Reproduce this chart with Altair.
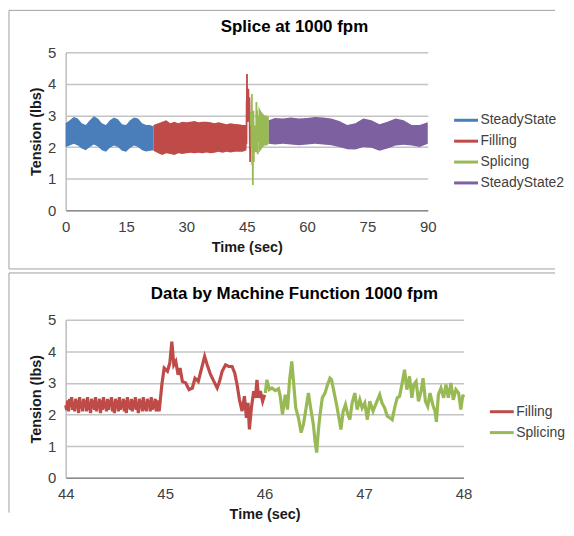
import altair as alt
import pandas as pd

FONT = "Liberation Sans"
SERIES = ["SteadyState", "Filling", "Splicing", "SteadyState2"]
COLORS = ["#4A7EBB", "#BE4B48", "#98B954", "#7D60A0"]
TITLE_TOP = "Splice at 1000 fpm"
TITLE_BOTTOM = "Data by Machine Function 1000 fpm"
X_TICKS_TOP = [0, 15, 30, 45, 60, 75, 90]
X_TICKS_BOTTOM = [44, 45, 46, 47, 48]
Y_TICKS = [0, 1, 2, 3, 4, 5]

# ---- top chart: envelope of the dense signal (time, upper, lower) ----
ss_t = [0, 1, 2, 3, 4, 5, 6, 7, 8, 9, 10, 11, 12, 13, 14, 15, 16, 17, 18, 19, 20, 21, 21.8]
ss_hi = [2.75, 2.85, 2.95, 2.9, 2.75, 2.7, 2.85, 2.97, 2.9, 2.75, 2.7, 2.85, 2.93, 2.88, 2.72, 2.7, 2.85, 2.93, 2.9, 2.75, 2.7, 2.7, 2.65]
ss_lo = [2.0, 2.05, 2.1, 2.05, 1.95, 1.9, 2.0, 2.08, 2.02, 1.9, 1.85, 1.98, 2.05, 2.0, 1.88, 1.85, 1.97, 2.05, 2.0, 1.9, 1.86, 1.88, 1.9]

fl_t = [21.8, 23, 24, 25, 26, 27, 28, 29, 30, 31, 32, 33, 34, 35, 36, 37, 38, 39, 40, 41, 42, 43, 44, 44.94]
fl_hi = [2.7, 2.75, 2.8, 2.85, 2.75, 2.8, 2.75, 2.8, 2.78, 2.8, 2.82, 2.78, 2.8, 2.8, 2.78, 2.75, 2.78, 2.75, 2.72, 2.75, 2.73, 2.72, 2.7, 2.7]
fl_lo = [1.88, 1.8, 1.75, 1.8, 1.78, 1.75, 1.8, 1.78, 1.8, 1.82, 1.8, 1.82, 1.8, 1.83, 1.8, 1.82, 1.85, 1.82, 1.85, 1.83, 1.85, 1.85, 1.85, 1.9]

sa_t = [47.95, 48.5, 49, 49.5, 50, 50.5]
sa_hi = [3.3, 3.15, 3.05, 3.0, 3.0, 2.95]
sa_lo = [1.8, 1.9, 2.0, 2.05, 2.05, 2.1]

s2_t = [50.5, 52, 54, 56, 58, 60, 62, 64, 66, 68, 70, 72, 74, 76, 78, 80, 82, 84, 86, 88, 90]
s2_hi = [2.85, 2.92, 2.9, 2.93, 2.9, 2.92, 2.95, 2.93, 2.9, 2.82, 2.7, 2.75, 2.9, 2.85, 2.72, 2.8, 2.9, 2.85, 2.7, 2.7, 2.78]
s2_lo = [2.1, 2.08, 2.1, 2.08, 2.06, 2.08, 2.1, 2.08, 2.06, 2.0, 1.93, 1.92, 2.0, 1.98, 1.88, 1.95, 2.05, 2.07, 2.05, 2.0, 2.1]

# ---- detailed trace 44..48 s ----
fill_noise_v = [2.30, 2.15, 2.45, 2.10, 2.50, 2.25, 2.55, 2.15, 2.40, 2.10,
                2.50, 2.20, 2.45, 2.05, 2.55, 2.20, 2.40, 2.10, 2.50, 2.25,
                2.45, 2.10, 2.55, 2.15, 2.40, 2.05, 2.50, 2.20, 2.45, 2.15,
                2.55, 2.10, 2.40, 2.20, 2.50, 2.05, 2.45, 2.15, 2.55, 2.20,
                2.40, 2.10, 2.50, 2.15, 2.45, 2.25, 2.55, 2.10, 2.40, 2.05,
                2.50, 2.20, 2.45, 2.10, 2.55, 2.15, 2.40, 2.20, 2.50, 2.10,
                2.45, 2.05, 2.55, 2.20, 2.40, 2.15, 2.50, 2.10, 2.45, 2.20,
                2.55, 2.15, 2.40, 2.05, 2.50, 2.20, 2.45, 2.10, 2.55, 2.15,
                2.40, 2.10, 2.50, 2.25, 2.45, 2.10, 2.55, 2.15, 2.40, 2.20,
                2.50, 2.10, 2.45, 2.20]
fill_noise_t = [round(44 + 0.01 * i, 3) for i in range(len(fill_noise_v))]
fill_t2 = [44.94, 44.967, 44.99, 45.023, 45.047, 45.067, 45.087, 45.107, 45.13, 45.15, 45.173, 45.207, 45.24,
           45.273, 45.30, 45.333, 45.367, 45.397, 45.423, 45.457, 45.49, 45.523, 45.547, 45.573, 45.607, 45.64,
           45.673, 45.70, 45.723, 45.747, 45.773, 45.797, 45.817, 45.833, 45.847, 45.867, 45.89, 45.907, 45.923,
           45.94, 45.957, 45.98, 46.0]
fill_v2 = [2.11, 2.95, 3.47, 3.37, 3.63, 4.31, 3.57, 3.68, 3.26, 3.47, 3.05, 3.0, 2.79, 2.84, 3.15, 3.05, 3.47,
           3.84, 3.57, 3.26, 3.05, 2.84, 3.05, 3.37, 3.57, 3.52, 3.52, 3.31, 2.95, 2.47, 2.11, 2.58, 1.90, 2.37,
           1.53, 2.21, 2.74, 2.53, 3.1, 2.53, 2.74, 2.42, 2.63]
sp_t = [46.007, 46.023, 46.047, 46.073, 46.107, 46.14, 46.157, 46.18, 46.207, 46.23,
        46.25, 46.273, 46.293, 46.313, 46.34, 46.367, 46.39, 46.417, 46.44, 46.463,
        46.49, 46.507, 46.523, 46.54, 46.557, 46.58, 46.607, 46.633, 46.657, 46.673,
        46.70, 46.723, 46.747, 46.767, 46.79, 46.813, 46.833, 46.857, 46.88, 46.907,
        46.93, 46.957, 46.98, 47.007, 47.033, 47.057, 47.09, 47.123, 47.157, 47.18,
        47.207, 47.233, 47.257, 47.283, 47.307, 47.333, 47.357, 47.38, 47.407, 47.43,
        47.457, 47.48, 47.5, 47.523, 47.547, 47.573, 47.593, 47.617, 47.64, 47.663,
        47.69, 47.713, 47.727, 47.747, 47.773, 47.8, 47.823, 47.847, 47.873, 47.897,
        47.923, 47.95, 47.973, 47.993, 48.0]
sp_v = [2.68, 3.1, 2.79, 2.84, 2.76, 2.82, 2.58, 2.0, 2.63, 2.16,
        3.05, 3.68, 2.95, 2.21, 1.9, 1.43, 1.69, 2.21, 2.68, 2.21,
        1.69, 1.16, 0.8, 1.48, 2.0, 2.53, 2.68, 2.95, 3.15, 3.1,
        2.68, 2.32, 1.9, 1.53, 2.11, 2.32, 2.05, 1.84, 2.37, 2.68,
        2.16, 2.47, 2.21, 2.37, 1.84, 2.42, 2.11, 2.37, 2.63, 2.37,
        2.21, 1.95, 1.9, 1.84, 2.21, 2.53, 2.58, 2.95, 3.42, 2.79,
        3.21, 2.53, 2.95, 3.05, 2.42, 2.74, 3.15, 2.42, 2.26, 2.68,
        2.32, 2.11, 1.77, 2.63, 2.84, 2.53, 2.95, 2.53, 3.0, 2.47,
        2.79, 2.68, 2.16, 2.63, 2.55]

band_df = pd.concat([
    pd.DataFrame({"series": "SteadyState", "t": ss_t, "hi": ss_hi, "lo": ss_lo}),
    pd.DataFrame({"series": "Filling", "t": fl_t, "hi": fl_hi, "lo": fl_lo}),
    pd.DataFrame({"series": "Splicing", "t": sa_t, "hi": sa_hi, "lo": sa_lo}),
    pd.DataFrame({"series": "SteadyState2", "t": s2_t, "hi": s2_hi, "lo": s2_lo}),
], ignore_index=True)

detail_df = pd.concat([
    pd.DataFrame({"series": "Filling", "t": fill_noise_t + fill_t2, "v": fill_noise_v + fill_v2}),
    pd.DataFrame({"series": "Splicing", "t": sp_t, "v": sp_v}),
], ignore_index=True)

one = pd.DataFrame({"k": [0]})
FRAME = "#A0A0A0"


def x_axis(values):
    return alt.Axis(values=values, title="Time (sec)", grid=False, ticks=False, format="d",
                    labelFlush=False, labelPadding=9, titlePadding=6,
                    domainColor="#8C8C8C", domainWidth=1.5)


y_axis = alt.Axis(values=Y_TICKS, title="Tension (lbs)", grid=True, ticks=False, format="d",
                  labelPadding=10, titlePadding=4, domainColor="#BDBDBD", domainWidth=1.5,
                  gridColor="#C4C4C4", gridWidth=1.5)


def legend(x, y):
    return alt.Legend(orient="none", legendX=x, legendY=y, title=None, symbolType="stroke",
                      symbolSize=576, symbolStrokeWidth=3, labelFontSize=14, labelFont=FONT,
                      labelColor="#404040", rowPadding=0, padding=0, labelOffset=1)


def frame_and_title(title, top, left_bottom, bottom_line, title_dy):
    layers = [
        alt.Chart(one).mark_rule(color=FRAME, strokeWidth=1).encode(
            x=alt.value(-57), x2=alt.value(492), y=alt.value(top)),
        alt.Chart(one).mark_rule(color=FRAME, strokeWidth=1).encode(
            x=alt.value(-57), y=alt.value(top), y2=alt.value(left_bottom)),
    ]
    if bottom_line:
        layers.append(alt.Chart(one).mark_rule(color=FRAME, strokeWidth=1).encode(
            x=alt.value(-57), x2=alt.value(492), y=alt.value(left_bottom)))
    layers.append(alt.Chart(one).mark_text(fontSize=17, fontWeight="bold", font=FONT, color="#000000",
                                           align="center", baseline="middle").encode(
        x=alt.value(230), y=alt.value(top + title_dy), text=alt.value(title)))
    return layers


# ---- top chart ----
top_scale = alt.Scale(domain=SERIES, range=COLORS)
xs_top = alt.Scale(domain=[0, 90], nice=False, zero=False)
ys = alt.Scale(domain=[0, 5], nice=False)
top_legend = legend(389, 55)

area = alt.Chart(band_df).mark_area(opacity=1).encode(
    x=alt.X("t:Q", scale=xs_top, axis=x_axis(X_TICKS_TOP)),
    y=alt.Y("lo:Q", scale=ys, axis=y_axis),
    y2="hi:Q",
    color=alt.Color("series:N", scale=top_scale, legend=top_legend),
)
top_line = alt.Chart(detail_df).mark_line(strokeWidth=1.8).encode(
    x=alt.X("t:Q", scale=xs_top, axis=x_axis(X_TICKS_TOP)),
    y=alt.Y("v:Q", scale=ys, axis=y_axis),
    color=alt.Color("series:N", scale=top_scale, legend=top_legend),
)
top = alt.layer(*frame_and_title(TITLE_TOP, -42, 218, True, 17), area, top_line).properties(width=364, height=159)

# ---- bottom chart ----
bot_scale = alt.Scale(domain=["Filling", "Splicing"], range=[COLORS[1], COLORS[2]])
xs_bot = alt.Scale(domain=[44, 48], nice=False, zero=False)
bot_line = alt.Chart(detail_df).mark_line(strokeWidth=3.2).encode(
    x=alt.X("t:Q", scale=xs_bot, axis=x_axis(X_TICKS_BOTTOM)),
    y=alt.Y("v:Q", scale=ys, axis=y_axis),
    color=alt.Color("series:N", scale=bot_scale, legend=legend(425, 79)),
)
bottom = alt.layer(*frame_and_title(TITLE_BOTTOM, -47, 194, False, 21), bot_line).properties(width=400, height=159)

chart = alt.vconcat(top, bottom, spacing=2).resolve_scale(color="independent", x="independent").resolve_legend(
    color="independent").properties(padding=0, background="white").configure_view(stroke=None).configure_axis(
    labelFont=FONT, labelFontSize=15, labelColor="#404040", titleFont=FONT, titleFontSize=14.5,
    titleFontWeight="bold", titleColor="#1A1A1A")

chart.save("out.html", embed_options={"renderer": "svg", "actions": False})
